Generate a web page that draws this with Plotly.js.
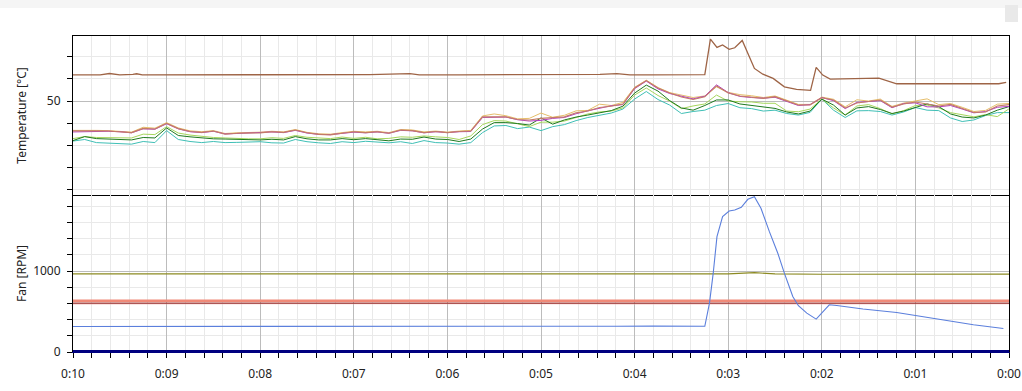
<!DOCTYPE html>
<html>
<head>
<meta charset="utf-8">
<script src="https://cdn.plot.ly/plotly-3.0.1.min.js"></script>
<style>html,body{margin:0;padding:0;background:#fff;}#chart{width:1022px;height:391px;}</style>
</head>
<body>
<div id="chart"></div>
<script>
// Time axis: minutes before now (0:10 ... 0:00)
const xTickVals = [10, 9, 8, 7, 6, 5, 4, 3, 2, 1, 0];
const xTickText = ['0:10', '0:09', '0:08', '0:07', '0:06', '0:05', '0:04', '0:03', '0:02', '0:01', '0:00'];

// Temperature sample times (minutes)
const tempTime = [10, 9.875, 9.75, 9.625, 9.5, 9.375, 9.25, 9.125, 9, 8.875, 8.75, 8.625, 8.5, 8.375, 8.25, 8.125,
  8, 7.875, 7.75, 7.625, 7.5, 7.375, 7.25, 7.125, 7, 6.875, 6.75, 6.625, 6.5, 6.375, 6.25, 6.125,
  6, 5.875, 5.75, 5.625, 5.5, 5.375, 5.25, 5.125, 5, 4.875, 4.75, 4.625, 4.5, 4.375, 4.25, 4.125,
  4, 3.875, 3.75, 3.625, 3.5, 3.375, 3.25, 3.125, 3, 2.875, 2.75, 2.625, 2.5, 2.375, 2.25, 2.125,
  2, 1.875, 1.75, 1.625, 1.5, 1.375, 1.25, 1.125, 1, 0.875, 0.75, 0.625, 0.5, 0.375, 0.25, 0.125, 0];

const tempSalmon = [36.6,36.7,36.6,36.5,36.3,35.8,37.7,37.4,40.0,37.6,
  36.3,35.9,36.5,35.1,35.5,35.6,35.7,36.2,35.9,37.0,
  35.7,35.0,34.8,35.5,36.2,35.8,36.2,35.5,37.0,36.7,
  35.8,36.3,35.8,36.3,36.5,42.9,42.9,42.9,41.7,41.5,
  42.2,42.4,42.9,44.7,45.5,47.1,47.7,48.7,55.9,59.2,
  55.9,53.6,51.8,50.7,51.9,56.8,53.6,52.3,51.9,51.2,
  52.0,50.0,48.2,48.2,51.5,50.5,46.9,49.1,49.7,50.5,
  47.3,48.7,49.6,48.7,47.8,48.5,46.6,44.9,45.1,47.8,48.4];

const tempMagenta = [36.1,36.3,36.5,36.4,36.2,35.7,37.5,37.3,39.8,37.5,
  36.2,35.8,36.4,35.2,35.4,35.6,35.6,36.1,35.8,36.8,
  35.6,35.0,34.9,35.4,36.0,35.7,36.1,35.5,36.8,36.6,
  35.7,36.2,35.8,36.2,36.3,42.6,42.7,42.8,41.6,41.0,
  41.3,42.2,42.6,44.3,45.6,46.8,47.9,48.4,55.6,59.0,
  55.5,53.4,52.2,51.0,52.2,57.3,53.8,52.1,51.6,51.3,
  51.7,49.8,48.0,48.4,51.6,50.2,46.6,49.4,49.9,50.2,
  47.0,48.9,49.2,47.4,47.4,48.0,46.4,44.7,45.3,47.2,47.6];

const tempOrange = [36.8,36.9,36.8,36.7,36.5,36.0,38.2,37.8,40.3,37.9,
  36.6,36.2,36.7,35.4,35.7,35.8,36.0,36.4,36.1,37.2,
  35.9,35.3,35.1,35.8,36.4,36.1,36.4,35.8,37.2,37.0,
  36.1,36.5,36.0,36.5,36.8,43.3,44.2,43.4,42.0,42.2,
  44.6,42.7,43.6,45.6,45.8,48.6,48.0,49.4,56.2,59.4,
  56.1,53.8,52.6,51.6,52.3,56.4,53.9,52.9,52.4,51.6,
  52.3,50.4,48.5,48.5,51.8,50.8,47.4,50.6,50.0,50.9,
  47.6,49.1,50.2,51.0,48.4,48.9,47.2,45.3,45.8,48.6,48.9];

const tempLightGreen = [33.1,34.0,33.6,33.6,33.5,33.4,35.1,34.9,38.5,35.6,
  34.7,34.0,33.6,33.4,33.1,33.0,33.0,33.5,33.2,34.5,
  33.7,33.5,33.1,33.8,33.2,33.7,33.0,33.2,33.9,33.7,
  34.3,33.9,33.6,32.7,34.3,39.4,41.2,41.0,39.6,38.5,
  40.5,40.5,41.0,42.6,44.2,45.1,45.5,46.9,52.7,55.9,
  52.5,50.0,46.6,47.8,48.7,52.7,50.0,49.7,49.6,49.0,
  49.0,45.5,45.2,46.4,50.9,46.9,43.7,47.8,48.4,46.6,
  44.2,45.7,48.0,48.2,46.9,44.8,43.7,42.9,43.9,43.0,46.5];

const tempDarkGreen = [32.2,34.0,33.1,32.9,32.7,32.5,33.6,33.4,37.9,34.5,
  33.9,33.4,33.0,32.9,32.8,32.7,32.5,32.8,32.5,34.0,
  33.0,32.5,32.5,33.1,32.6,33.1,32.5,32.1,32.9,32.8,
  33.8,32.9,32.7,31.8,32.9,37.4,40.3,40.3,39.9,39.2,
  42.4,39.6,41.5,42.8,43.7,44.6,45.7,47.7,53.6,57.2,
  54.5,50.2,46.9,45.9,48.0,50.5,50.5,48.7,48.0,47.2,
  46.7,45.1,44.2,45.5,50.9,48.2,43.7,46.9,47.5,46.2,
  44.4,45.5,47.0,48.7,47.5,44.2,42.8,42.4,43.7,45.9,47.5];

const tempTeal = [32.0,32.7,31.3,31.1,31.1,30.6,31.8,31.3,36.7,32.7,
  31.8,31.3,31.8,31.3,31.4,31.4,31.7,31.2,31.1,32.7,
  31.7,31.2,30.9,31.7,31.3,31.9,31.5,31.2,31.7,30.9,
  32.2,31.3,31.1,30.6,31.3,35.8,38.8,39.0,37.6,38.3,
  36.7,38.5,39.4,41.2,42.6,43.5,44.6,46.4,50.9,54.3,
  50.7,48.2,44.4,45.3,45.9,48.0,48.9,47.0,46.6,45.5,
  45.9,44.4,43.7,44.9,50.9,45.9,42.6,45.6,45.7,45.3,
  43.7,45.1,47.1,45.9,45.7,42.4,40.8,41.5,43.5,44.8,44.8];

// Hottest sensor (own sampling of its vertices)
const brownTime = [10, 9.71, 9.61, 9.5, 9.36, 9.32, 9.26, 8.75, 8.65, 8.01, 7.58, 7.36, 7.15, 6.83, 6.4, 6.3,
  5.87, 5.23, 4.8, 4.37, 4.19, 4.05, 3.84, 3.3, 3.25, 3.19, 3.12, 3.06, 2.99, 2.93, 2.85, 2.72,
  2.63, 2.52, 2.4, 2.27, 2.12, 2.06, 1.99, 1.91, 1.39, 1.2, 0.11, 0.03];
const brownTemp = [61.8, 61.8, 62.4, 61.8, 62.0, 62.3, 61.8, 61.8, 62.0, 61.8, 61.8, 62.0, 61.8, 61.9, 62.4, 61.8,
  61.8, 61.9, 61.9, 62.0, 62.4, 61.8, 61.8, 61.8, 61.9, 77.9, 74.2, 75.3, 73.3, 74.0, 77.3, 64.7,
  62.1, 60.2, 56.4, 55.3, 54.8, 65.2, 61.7, 59.9, 60.3, 57.8, 57.8, 58.4];

// Fans (RPM)
const fanBlueTime = [10, 9, 8, 7, 6, 5.8, 5.5, 5, 4.5, 4.2, 3.8, 3.25, 3.2, 3.16, 3.12, 3.06, 2.99, 2.93, 2.86,
  2.79, 2.72, 2.65, 2.56, 2.47, 2.4, 2.31, 2.25, 2.16, 2.06, 1.92, 1.84, 1.56, 1.2, 0.99, 0.63, 0.38, 0.06];
const fanBlue = [316, 315, 316, 316, 317, 320, 318, 316, 316, 318, 320, 318, 605, 975, 1427, 1674, 1744, 1757, 1790,
  1889, 1921, 1778, 1489, 1222, 975, 686, 572, 481, 407, 584, 575, 531, 489, 448, 378, 337, 291];
const fanOliveTime = [10, 8, 6, 4, 3.0, 2.72, 2.5, 2.0, 1.0, 0];
const fanOlive = [966, 965, 966, 967, 967, 982, 966, 962, 962, 963];
const fanFlatTime = [10, 9, 8, 7, 6, 5, 4, 3, 2, 1, 0];
const fanSalmon = [632, 633, 632, 633, 632, 634, 633, 634, 633, 634, 633];
const fanDarkRed = [604, 604, 604, 604, 604, 604, 604, 605, 604, 604, 604];
const fanPink = [596, 598, 596, 597, 596, 598, 596, 597, 596, 598, 597];
const fanNavyTime = [10, 0];
const fanNavy = [0, 0];

function line(x, y, color, width, xa, ya, name, opacity) {
  return {x: x, y: y, type: 'scatter', mode: 'lines', name: name, xaxis: xa, yaxis: ya,
    line: {color: color, width: width}, opacity: opacity || 1, hoverinfo: 'skip'};
}

const data = [
  line(tempTime, tempTeal, '#3fbfb6', 1, 'x', 'y', 'Temp teal'),
  line(tempTime, tempLightGreen, '#a6d65c', 1, 'x', 'y', 'Temp light green'),
  line(tempTime, tempDarkGreen, '#1f7a1f', 1, 'x', 'y', 'Temp dark green'),
  line(tempTime, tempOrange, '#e6be6a', 1, 'x', 'y', 'Temp orange'),
  line(tempTime, tempMagenta, '#b23cc4', 1, 'x', 'y', 'Temp magenta'),
  line(tempTime, tempSalmon, '#c47c66', 1.1, 'x', 'y', 'Temp salmon'),
  line(brownTime, brownTemp, '#9e6446', 1.3, 'x', 'y', 'Temp brown'),
  line(fanFlatTime, fanPink, '#f2b2aa', 1.2, 'x2', 'y2', 'Fan pink', 0.8),
  line(fanFlatTime, fanSalmon, '#f08a78', 2.6, 'x2', 'y2', 'Fan salmon'),
  line(fanFlatTime, fanDarkRed, '#8b1c1c', 1, 'x2', 'y2', 'Fan dark red'),
  line(fanOliveTime, fanOlive, '#8c8a22', 1.1, 'x2', 'y2', 'Fan olive'),
  line(fanBlueTime, fanBlue, '#5b7fdc', 1.1, 'x2', 'y2', 'Fan blue'),
  line(fanNavyTime, fanNavy, '#000080', 4, 'x2', 'y2', 'Fan navy')
];

const majorGrid = '#bcbcbc';
const minorGrid = '#e9e9e9';

const layout = {
  width: 1022, height: 391,
  margin: {l: 73, r: 13, t: 36, b: 39},
  paper_bgcolor: '#ffffff', plot_bgcolor: '#ffffff',
  showlegend: false,
  font: {family: 'Noto Sans, Open Sans, sans-serif', size: 12, color: '#222'},
  xaxis: {
    domain: [0, 1], anchor: 'y', range: [10, 0],
    tickmode: 'array', tickvals: xTickVals, ticktext: xTickText, showticklabels: false, ticks: '',
    showgrid: true, gridcolor: majorGrid, gridwidth: 1,
    minor: {tickmode: 'linear', tick0: 0, dtick: 0.2, showgrid: true, gridcolor: minorGrid, ticks: ''},
    showline: true, linecolor: '#000', linewidth: 1, mirror: true, zeroline: false
  },
  yaxis: {
    domain: [0.4968, 1], anchor: 'x', range: [7.7, 79.3],
    tickmode: 'array', tickvals: [50], ticktext: ['50'],
    ticks: 'outside', ticklen: 5, tickcolor: '#000', ticklabelstandoff: 4,
    showgrid: true, gridcolor: majorGrid,
    minor: {tickmode: 'linear', tick0: 0, dtick: 10, ticks: 'outside', ticklen: 5, tickcolor: '#000', showgrid: true, gridcolor: minorGrid},
    showline: true, linecolor: '#000', linewidth: 1, mirror: true, zeroline: false,
    title: {text: 'Temperature [°C]', standoff: 17, font: {size: 12, color: '#222'}}
  },
  xaxis2: {
    domain: [0, 1], anchor: 'y2', range: [10, 0],
    tickmode: 'array', tickvals: xTickVals, ticktext: xTickText,
    ticks: 'outside', ticklen: 5, tickcolor: '#000', ticklabelstandoff: 6,
    showgrid: true, gridcolor: majorGrid,
    minor: {tickmode: 'linear', tick0: 0, dtick: 0.2, showgrid: true, gridcolor: minorGrid, ticks: 'outside', ticklen: 5, tickcolor: '#000'},
    showline: true, linecolor: '#000080', linewidth: 1, mirror: false, zeroline: false
  },
  yaxis2: {
    domain: [0, 0.4968], anchor: 'x2', range: [0, 1942],
    tickmode: 'array', tickvals: [0, 1000], ticktext: ['0', '1000'],
    ticks: 'outside', ticklen: 5, tickcolor: '#000', ticklabelstandoff: 4,
    showgrid: true, gridcolor: majorGrid,
    minor: {tickmode: 'linear', tick0: 0, dtick: 200, ticks: 'outside', ticklen: 5, tickcolor: '#000', showgrid: true, gridcolor: minorGrid},
    showline: true, linecolor: '#000', linewidth: 1, mirror: true, zeroline: false,
    title: {text: 'Fan [RPM]', standoff: 3, font: {size: 12, color: '#222'}}
  },
  shapes: [
    {type: 'rect', xref: 'paper', yref: 'paper', x0: -0.08, x1: 1.02, y0: 1.0886, y1: 1.1139, fillcolor: '#f5f5f5', line: {width: 0}, layer: 'below'},
    {type: 'rect', xref: 'paper', yref: 'paper', x0: 0.9957, x1: 1.0096, y0: 1.0443, y1: 1.0981, fillcolor: '#e9e9e9', line: {width: 0}}
  ]
};

Plotly.newPlot('chart', data, layout, {displayModeBar: false, staticPlot: true});
</script>
</body>
</html>
